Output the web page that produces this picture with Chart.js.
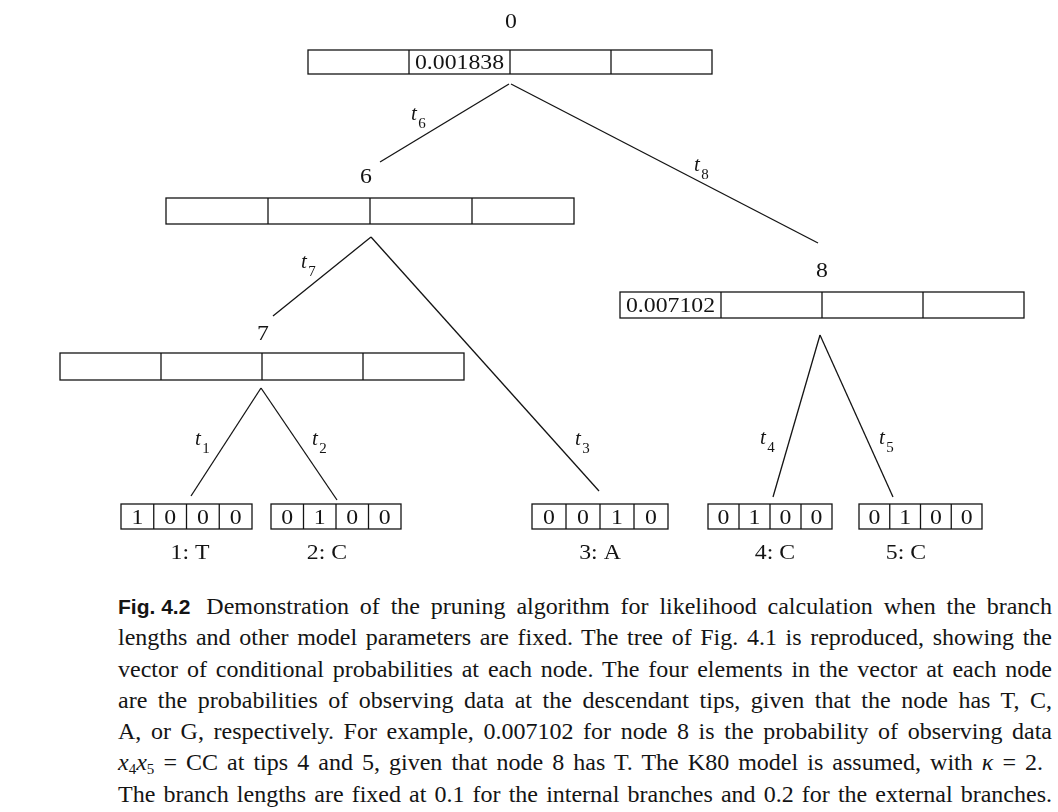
<!DOCTYPE html>
<html><head><meta charset="utf-8">
<script src="https://cdn.jsdelivr.net/npm/chart.js@4.4.1/dist/chart.umd.min.js"></script>
<style>
html,body{margin:0;padding:0;background:#fff;width:1058px;height:812px;overflow:hidden}
#wrap{position:absolute;left:0;top:0;width:1058px;height:580px}
#cap{position:absolute;left:118px;top:591px;width:934px;font-family:"Liberation Serif","Times New Roman",serif;font-size:24px;line-height:31.3px;color:#141414}
.ln{white-space:nowrap;height:31.3px}
.ln>span{display:inline-block}
.fig{font-family:"Liberation Sans",Arial,sans-serif;font-weight:bold;font-size:21px;margin-right:16px;word-spacing:0}
sub{font-size:15px;vertical-align:-4px;line-height:0}
</style></head>
<body>
<div id="wrap"><canvas id="c" width="1058" height="580"></canvas></div>
<div id="cap">
<div class="ln" data-w="934"><span><span class="fig">Fig. 4.2</span>Demonstration of the pruning algorithm for likelihood calculation when the branch</span></div>
<div class="ln" data-w="934"><span>lengths and other model parameters are fixed. The tree of Fig. 4.1 is reproduced, showing the</span></div>
<div class="ln" data-w="934"><span>vector of conditional probabilities at each node. The four elements in the vector at each node</span></div>
<div class="ln" data-w="934"><span>are the probabilities of observing data at the descendant tips, given that the node has T, C,</span></div>
<div class="ln" data-w="934"><span>A, or G, respectively. For example, 0.007102 for node 8 is the probability of observing data</span></div>
<div class="ln" data-w="925"><span><i>x</i><sub>4</sub><i>x</i><sub>5</sub> = CC at tips 4 and 5, given that node 8 has T. The K80 model is assumed, with <i>κ</i> = 2.</span></div>
<div class="ln" data-w="934"><span>The branch lengths are fixed at 0.1 for the internal branches and 0.2 for the external branches.</span></div>
</div>
<script>
// ---- data ----
const nodeNames = ['0', '6', '7', '8'];
const nodeVectors = [
  ['', '0.001838', '', ''],
  ['', '', '', ''],
  ['', '', '', ''],
  ['0.007102', '', '', '']
];
const tipNames = ['1: T', '2: C', '3: A', '4: C', '5: C'];
const tipVectors = [
  ['1', '0', '0', '0'],
  ['0', '1', '0', '0'],
  ['0', '0', '1', '0'],
  ['0', '1', '0', '0'],
  ['0', '1', '0', '0']
];
const branchNames = ['6', '8', '7', '3', '1', '2', '4', '5'];

// ---- layout (diagram coordinates) ----
const nodeBoxX = [[308, 712], [166, 574], [60, 464], [620, 1024]];
const nodeBoxY = [[50, 74], [198, 224], [353, 380], [292, 318]];
const nodeLabelXY = [[511, 21], [366, 176], [263, 333], [822, 270]];
const tipBoxX = [[121, 252], [271, 401], [532, 668], [708, 832], [859, 982]];
const tipBoxY = [504, 529];
const tipLabelX = [190, 327, 600, 775, 906];
const tipLabelY = 552;
const branchFrom = [[509, 84], [511, 84], [371, 237], [371, 237], [261, 388], [261, 388], [820, 335], [820, 335]];
const branchTo = [[380, 162], [818, 243], [273, 316], [599, 491], [191, 496], [337, 500], [773, 497], [893, 497]];
const branchLabelXY = [[414, 114], [697, 165], [304, 262], [578, 439], [198, 439], [315, 439], [763, 438], [882, 438]];

const INK = '#141414';
const SERIF = '"Liberation Serif","Times New Roman",serif';

const datasets = branchFrom.map((f, i) => ({
  label: 't' + branchNames[i],
  data: [{x: f[0], y: f[1]}, {x: branchTo[i][0], y: branchTo[i][1]}],
  showLine: true,
  borderColor: INK,
  borderWidth: 1.3,
  pointRadius: 0,
  fill: false
}));

function drawDigits(ctx, txt, cx, cy, size) {
  ctx.save();
  ctx.font = size + 'px ' + SERIF;
  ctx.textAlign = 'center';
  ctx.textBaseline = 'alphabetic';
  ctx.translate(cx, cy + size * 0.32);
  ctx.scale(1.08, 1);
  ctx.fillText(txt, 0, 0);
  ctx.restore();
}

const treePlugin = {
  id: 'tree',
  afterDatasetsDraw(chart) {
    const ctx = chart.ctx, xs = chart.scales.x, ys = chart.scales.y;
    const X = v => xs.getPixelForValue(v), Y = v => ys.getPixelForValue(v);
    ctx.save();
    ctx.strokeStyle = INK;
    ctx.fillStyle = INK;
    ctx.lineWidth = 1.3;
    function box(x0, x1, y0, y1, vals) {
      const px0 = X(x0), px1 = X(x1), py0 = Y(y0), py1 = Y(y1);
      ctx.strokeRect(px0, py0, px1 - px0, py1 - py0);
      const w = (px1 - px0) / vals.length;
      for (let k = 1; k < vals.length; k++) {
        ctx.beginPath();
        ctx.moveTo(px0 + w * k, py0);
        ctx.lineTo(px0 + w * k, py1);
        ctx.stroke();
      }
      vals.forEach((v, k) => {
        if (v !== '') drawDigits(ctx, v, px0 + w * (k + 0.5), (py0 + py1) / 2, 22);
      });
    }
    nodeNames.forEach((n, i) => {
      box(nodeBoxX[i][0], nodeBoxX[i][1], nodeBoxY[i][0], nodeBoxY[i][1], nodeVectors[i]);
      drawDigits(ctx, n, X(nodeLabelXY[i][0]), Y(nodeLabelXY[i][1]), 22);
    });
    tipNames.forEach((n, i) => {
      box(tipBoxX[i][0], tipBoxX[i][1], tipBoxY[0], tipBoxY[1], tipVectors[i]);
      drawDigits(ctx, n, X(tipLabelX[i]), Y(tipLabelY), 22);
    });
    branchNames.forEach((b, i) => {
      const cx = X(branchLabelXY[i][0]), cy = Y(branchLabelXY[i][1]);
      ctx.font = 'italic 21px ' + SERIF;
      ctx.textAlign = 'center';
      ctx.textBaseline = 'alphabetic';
      ctx.fillText('t', cx, cy + 6);
      ctx.font = '15px ' + SERIF;
      ctx.fillText(b, cx + 8, cy + 14);
    });
    ctx.restore();
  }
};

new Chart(document.getElementById('c'), {
  type: 'scatter',
  data: {datasets},
  options: {
    responsive: false,
    animation: false,
    events: [],
    layout: {padding: 0},
    plugins: {legend: {display: false}, tooltip: {enabled: false}, title: {display: false}},
    scales: {
      x: {type: 'linear', min: 0, max: 1058, display: false},
      y: {type: 'linear', min: 0, max: 580, reverse: true, display: false}
    }
  },
  plugins: [treePlugin]
});

// justify caption lines
(function () {
  const cap = document.getElementById('cap');
  const lines = Array.from(cap.querySelectorAll('.ln'));
  let size = 24;
  for (let iter = 0; iter < 20; iter++) {
    let over = false;
    lines.forEach(l => {
      const s = l.firstElementChild; s.style.wordSpacing = '0px';
      if (s.getBoundingClientRect().width > parseFloat(l.dataset.w) - 4) over = true;
    });
    if (!over) break;
    size -= 0.25; cap.style.fontSize = size + 'px';
  }
  lines.forEach(l => {
    const s = l.firstElementChild;
    const target = parseFloat(l.dataset.w);
    const nat = s.getBoundingClientRect().width;
    const fig = s.querySelector('.fig');
    let txt = s.textContent;
    if (fig) txt = txt.replace(fig.textContent, '');
    const spaces = (txt.match(/ /g) || []).length;
    if (spaces > 0) s.style.wordSpacing = ((target - nat) / spaces) + 'px';
    if (fig) fig.style.wordSpacing = '0px';
  });
})();
</script>
</body></html>
